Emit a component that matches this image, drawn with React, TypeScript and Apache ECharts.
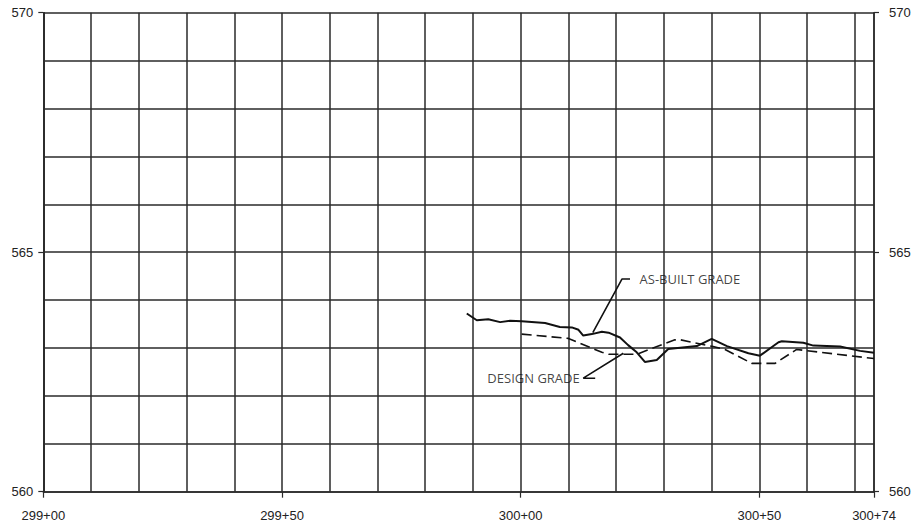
import React, { useEffect, useRef } from "react";
import * as echarts from "echarts";

// Stations in feet (299+00 = 29900)
const xTickLabels = [29900, 29950, 30000, 30050, 30074];
const yTickLabels = [560, 565, 570];

const asBuiltStations = [
  29988.7, 29990.8, 29993.2, 29995.7, 29997.8, 30000.2, 30005.1, 30008.2, 30010.7, 30012.1,
  30013.1, 30014.9, 30017.0, 30018.4, 30020.8, 30022.5, 30024.3, 30026.0, 30028.5, 30030.9,
  30036.9, 30040.0, 30043.2, 30047.7, 30050.1, 30054.0, 30054.7, 30059.2, 30061.3, 30066.9,
  30071.1, 30074.0,
];
const asBuiltElev = [
  563.72, 563.58, 563.6, 563.54, 563.57, 563.56, 563.52, 563.44, 563.43, 563.38,
  563.26, 563.29, 563.34, 563.32, 563.22, 563.06, 562.91, 562.71, 562.75, 562.98,
  563.04, 563.19, 563.04, 562.89, 562.84, 563.12, 563.14, 563.11, 563.05, 563.03,
  562.94, 562.9,
];

const designStations = [
  30000.2, 30010.0, 30017.0, 30018.4, 30024.3, 30032.3, 30033.5, 30040.3, 30042.8, 30048.4,
  30053.3, 30057.8, 30074.0,
];
const designElev = [
  563.29, 563.2, 562.91, 562.87, 562.87, 563.17, 563.17, 563.03, 562.97, 562.68,
  562.68, 562.97, 562.78,
];

// annotation leaders (data coordinates)
const asBuiltLeaderX = [30022.9, 30021.2, 30015.1];
const asBuiltLeaderY = [564.44, 564.44, 563.32];
const designLeaderX = [30015.6, 30013.1, 30021.5];
const designLeaderY = [562.37, 562.37, 562.89];

const asBuiltLabel = "AS-BUILT GRADE";
const designLabel = "DESIGN GRADE";

const fmtStation = (v: number) => {
  const r = Math.round(v);
  const hi = Math.floor(r / 100);
  const lo = r % 100;
  return `${hi}+${lo < 10 ? "0" + lo : lo}`;
};

const zip = (xs: number[], ys: number[]) => xs.map((x, i) => [x, ys[i]]);

export default function App() {
  const ref = useRef<HTMLDivElement>(null);
  useEffect(() => {
    if (!ref.current) return;
    const chart = echarts.init(ref.current, undefined, { renderer: "svg" });
    const ink = "#2a2a2a";
    const axisFont = { fontFamily: "Liberation Sans, Arial, sans-serif", fontSize: 13, color: "#222" };
    const annFont = { fontFamily: "Open Sans, sans-serif", fontSize: 13, color: "#111" };
    const gridLine = { color: ink, width: 1.5 };

    // grid axes (every 10 ft / every 1 ft), labels on separate axes
    const xGrid = {
      type: "value",
      min: 29900,
      max: 30074,
      interval: 10,
      axisLine: { show: true, lineStyle: gridLine },
      axisTick: { show: false },
      axisLabel: { show: false },
      splitLine: { show: true, lineStyle: gridLine },
    };
    const xLabels = {
      type: "value",
      position: "bottom",
      min: 29900,
      max: 30074,
      axisLine: { show: false },
      axisTick: { show: true, length: 6, customValues: xTickLabels, lineStyle: { color: ink, width: 1.2 } },
      axisLabel: { ...axisFont, margin: 17, customValues: xTickLabels, formatter: (v: number) => fmtStation(v) },
      splitLine: { show: false },
    };
    const yGrid = {
      type: "value",
      position: "left",
      min: 560,
      max: 570,
      interval: 1,
      axisLine: { show: true, lineStyle: gridLine },
      axisTick: { show: false },
      axisLabel: { show: false },
      splitLine: { show: true, lineStyle: gridLine },
    };
    const yLabel = (pos: string, margin: number) => ({
      type: "value",
      position: pos,
      min: 560,
      max: 570,
      axisLine: { show: true, lineStyle: gridLine },
      axisTick: { show: true, length: 5, customValues: yTickLabels, lineStyle: { color: ink, width: 1.2 } },
      axisLabel: { ...axisFont, margin, customValues: yTickLabels, formatter: (v: number) => String(v) },
      splitLine: { show: false },
    });

    chart.setOption({
      animation: false,
      backgroundColor: "#ffffff",
      grid: { left: 43.3, right: 40, top: 12.7, bottom: 36.3, containLabel: false },
      xAxis: [xGrid, xLabels],
      yAxis: [yGrid, yLabel("left", 10), yLabel("right", 15)],
      series: [
        {
          name: "As-built grade",
          type: "line",
          data: zip(asBuiltStations, asBuiltElev),
          symbol: "none",
          lineStyle: { color: "#111", width: 2 },
          z: 5,
        },
        {
          name: "Design grade",
          type: "line",
          data: zip(designStations, designElev),
          symbol: "none",
          lineStyle: { color: "#111", width: 1.6, type: [10, 5] },
          z: 5,
        },
        {
          name: "As-built leader",
          type: "line",
          data: zip(asBuiltLeaderX, asBuiltLeaderY),
          symbol: "none",
          lineStyle: { color: "#111", width: 1.6 },
          z: 6,
        },
        {
          name: "Design leader",
          type: "line",
          data: zip(designLeaderX, designLeaderY),
          symbol: "none",
          lineStyle: { color: "#111", width: 1.6 },
          z: 6,
        },
        {
          name: "labels",
          type: "scatter",
          symbolSize: 1,
          itemStyle: { color: "rgba(0,0,0,0)" },
          z: 7,
          data: [
            {
              value: [asBuiltLeaderX[0], asBuiltLeaderY[0]],
              label: { show: true, position: "right", distance: 9, formatter: asBuiltLabel, ...annFont },
            },
            {
              value: [designLeaderX[1], designLeaderY[1]],
              label: { show: true, position: "left", distance: 3, formatter: designLabel, ...annFont },
            },
          ],
        },
      ],
    });
    return () => chart.dispose();
  }, []);
  return <div ref={ref} style={{ position: "fixed", left: 0, top: 0, width: 914, height: 528, background: "#fff" }} />;
}
